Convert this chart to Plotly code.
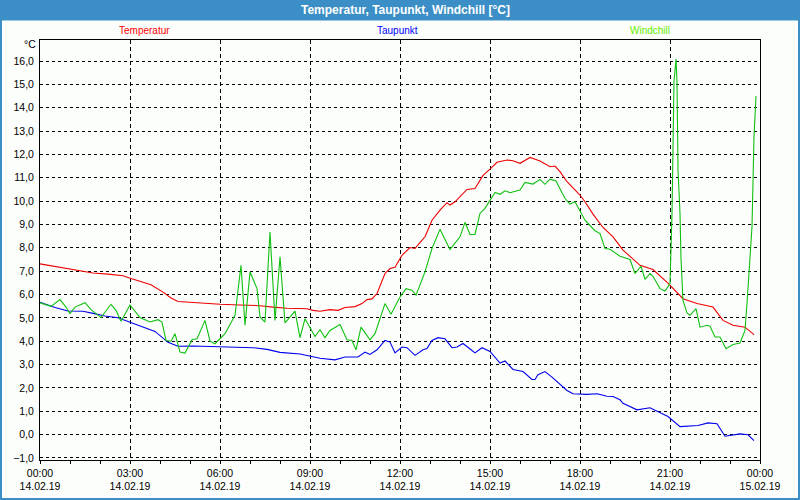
import plotly.graph_objects as go
from datetime import datetime, timedelta

# ---- data (minutes after 14.02.19 00:00, values in °C) ----
temp_t = [0,16,56,86,106,136,166,182,196,222,246,262,276,296,320,360,400,440,466,494,
          534,546,560,580,596,610,630,644,654,664,674,690,700,710,724,740,750,770,784,800,
          814,820,830,844,854,870,886,900,914,934,946,960,980,1000,1020,1030,1040,1054,1066,1080,
          1090,1106,1126,1146,1166,1200,1226,1256,1286,1314,1346,1366,1386,1410,1428]
temp_v = [7.31,7.25,7.08,7.0,6.92,6.87,6.8,6.68,6.58,6.42,6.1,5.85,5.7,5.67,5.64,5.58,5.55,5.52,5.46,5.41,
          5.39,5.32,5.28,5.35,5.32,5.44,5.48,5.61,5.78,5.81,6.04,6.9,7.11,7.17,7.68,8.01,7.97,8.47,9.18,9.61,
          9.93,9.83,9.97,10.29,10.5,10.54,11.1,11.37,11.66,11.76,11.73,11.62,11.87,11.72,11.47,11.5,11.26,10.83,10.57,10.26,
          9.97,9.44,8.87,8.47,7.9,7.25,7.07,6.49,5.82,5.61,5.46,4.89,4.68,4.6,4.28]

dew_t = [0,30,56,86,106,130,156,176,202,230,256,276,306,360,426,454,480,520,540,560,
         590,610,636,650,660,674,690,700,710,724,734,750,766,774,784,796,810,824,834,846,
         864,870,884,900,920,930,946,966,984,990,996,1010,1024,1054,1066,1094,1114,1134,1146,1160,
         1166,1194,1220,1256,1280,1316,1336,1354,1370,1400,1416,1428]
dew_v = [5.67,5.44,5.29,5.28,5.19,5.08,5.0,4.85,4.64,4.42,3.95,3.78,3.79,3.75,3.72,3.65,3.52,3.45,3.35,3.27,
         3.2,3.32,3.32,3.53,3.43,3.63,4.03,3.96,3.5,3.75,3.72,3.39,3.63,3.68,4.03,4.15,4.1,3.72,3.75,3.9,
         3.6,3.5,3.72,3.56,3.06,3.15,2.79,2.7,2.36,2.36,2.56,2.7,2.46,1.89,1.75,1.72,1.75,1.64,1.63,1.49,
         1.34,1.06,1.15,0.77,0.34,0.39,0.5,0.46,-0.07,0.03,-0.01,-0.26]

wc_t = [0,12,22,40,52,60,70,90,102,122,142,152,162,180,200,220,236,244,252,262,
        270,280,290,304,314,330,340,350,370,390,402,410,420,434,440,450,460,470,480,490,
        510,520,530,550,560,570,580,600,614,624,632,642,660,670,690,702,720,732,744,752,
        770,784,800,820,840,850,860,870,880,890,904,910,920,930,940,960,970,986,1000,1010,
        1020,1032,1050,1060,1070,1090,1110,1120,1130,1140,1160,1180,1190,1202,1210,1220,1226,1240,1250,1260,
        1264,1268,1272,1274,1276,1280,1282,1286,1294,1300,1312,1320,1334,1340,1350,1360,1372,1386,1400,1410,
        1414,1418,1424,1428,1432]
wc_v = [5.64,5.57,5.49,5.78,5.46,5.18,5.46,5.65,5.35,5.01,5.58,5.32,4.85,5.55,5.01,4.82,4.92,4.82,4.03,4.0,
        4.32,3.53,3.49,4.06,4.1,4.89,4.0,3.89,4.32,5.11,7.25,4.68,6.97,6.25,5.04,4.82,8.68,4.89,7.61,4.78,
        5.29,4.15,4.96,4.2,4.49,4.15,4.46,4.71,4.06,4.03,3.63,4.6,4.06,4.32,5.61,5.15,5.89,6.25,6.18,5.97,
        6.97,7.97,8.79,7.93,8.47,9.09,8.57,8.57,9.47,9.69,10.19,10.37,10.29,10.44,10.36,10.47,10.8,10.73,10.93,10.72,
        10.94,10.86,10.11,9.87,9.97,9.18,8.73,8.61,7.97,7.94,7.64,7.5,6.9,7.21,6.65,6.9,6.78,6.25,6.15,6.47,
        9.47,15.12,16.08,15.1,11.33,9.47,7.54,5.75,5.21,5.11,5.39,4.6,4.68,4.64,4.18,4.18,3.68,3.86,3.92,4.46,
        5.61,6.9,8.9,12.76,14.5]

tick_hours = [0, 3, 6, 9, 12, 15, 18, 21, 24]
tick_text = ["00:00<br>14.02.19", "03:00<br>14.02.19", "06:00<br>14.02.19", "09:00<br>14.02.19",
             "12:00<br>14.02.19", "15:00<br>14.02.19", "18:00<br>14.02.19", "21:00<br>14.02.19",
             "00:00<br>15.02.19"]

series_names = ["Temperatur", "Taupunkt", "Windchill"]
line_colors = ["#ee0000", "#0000ee", "#10c010"]
label_colors = ["#ff0000", "#0000ff", "#66ee00"]

base = datetime(2019, 2, 14)
def to_dt(mins):
    return [base + timedelta(minutes=m) for m in mins]

FONT = "Liberation Sans"
fig = go.Figure()
for name, t, v, c in zip(series_names, [temp_t, dew_t, wc_t], [temp_v, dew_v, wc_v], line_colors):
    fig.add_trace(go.Scatter(x=to_dt(t), y=v, mode="lines", name=name,
                             line=dict(color=c, width=1.1), showlegend=False))

W, H = 800, 500
L, R, T, B = 40, 40, 40, 40
pw, ph = W - L - R, H - T - B
def px(x): return (x - L) / pw
def py(y): return (H - B - y) / ph

fig.update_layout(
    width=W, height=H,
    margin=dict(l=L, r=R, t=T, b=B, autoexpand=False),
    paper_bgcolor="#fcfefc", plot_bgcolor="#fcfefc",
    separators=",.",
    font=dict(family=FONT, size=10, color="#000000"),
    xaxis=dict(
        type="date", automargin=False,
        range=[base, base + timedelta(hours=24)],
        tickmode="array",
        tickvals=[base + timedelta(hours=h) for h in tick_hours],
        ticktext=tick_text,
        ticks="outside", ticklen=3, tickcolor="#000", tickwidth=1,
        showgrid=True, gridcolor="#000000", gridwidth=1, griddash="4px,3px",
        showline=True, linecolor="#000000", linewidth=1, mirror=True,
        zeroline=False,
        minor=dict(dtick=3600000, ticks="outside", ticklen=3, tickcolor="#000", showgrid=False),
        tickfont=dict(family=FONT, size=10.5, color="#000"),
    ),
    yaxis=dict(
        automargin=False,
        range=[-1.09, 16.9],
        tickmode="linear", tick0=0, dtick=1,
        tickformat=".1f",
        ticks="", ticklabelstandoff=3,
        showgrid=True, gridcolor="#000000", gridwidth=1, griddash="3px,3px",
        showline=True, linecolor="#000000", linewidth=1, mirror=True,
        zeroline=False,
        tickfont=dict(family=FONT, size=10.5, color="#000"),
    ),
    shapes=[
        dict(type="rect", xref="paper", yref="paper",
             x0=px(0), x1=px(W), y0=py(0), y1=py(20.5),
             fillcolor="#3c8fc6", line=dict(width=0), layer="below"),
        dict(type="rect", xref="paper", yref="paper",
             x0=px(1), x1=px(W - 1), y0=py(1), y1=py(H - 1),
             fillcolor="rgba(0,0,0,0)", line=dict(color="#3c8fc6", width=2)),
    ],
)

annotations = [
    dict(text="<b>Temperatur, Taupunkt, Windchill [°C]</b>", x=px(405), y=py(10),
         font=dict(family=FONT, size=12, color="#ffffff")),
    dict(text="°C", x=px(38), y=py(44), xanchor="right",
         font=dict(family=FONT, size=10.5, color="#000")),
]
for name, xc, col in zip(series_names, [144, 397, 650], label_colors):
    annotations.append(dict(text=name, x=px(xc), y=py(30),
                            font=dict(family=FONT, size=10, color=col)))
for a in annotations:
    a.update(xref="paper", yref="paper", showarrow=False)
    a.setdefault("xanchor", "center")
    a.setdefault("yanchor", "middle")
fig.update_layout(annotations=annotations)

fig.write_html("out.html",
               config={"displayModeBar": False},
               post_script="document.body.style.margin='0';document.body.style.padding='0';")
